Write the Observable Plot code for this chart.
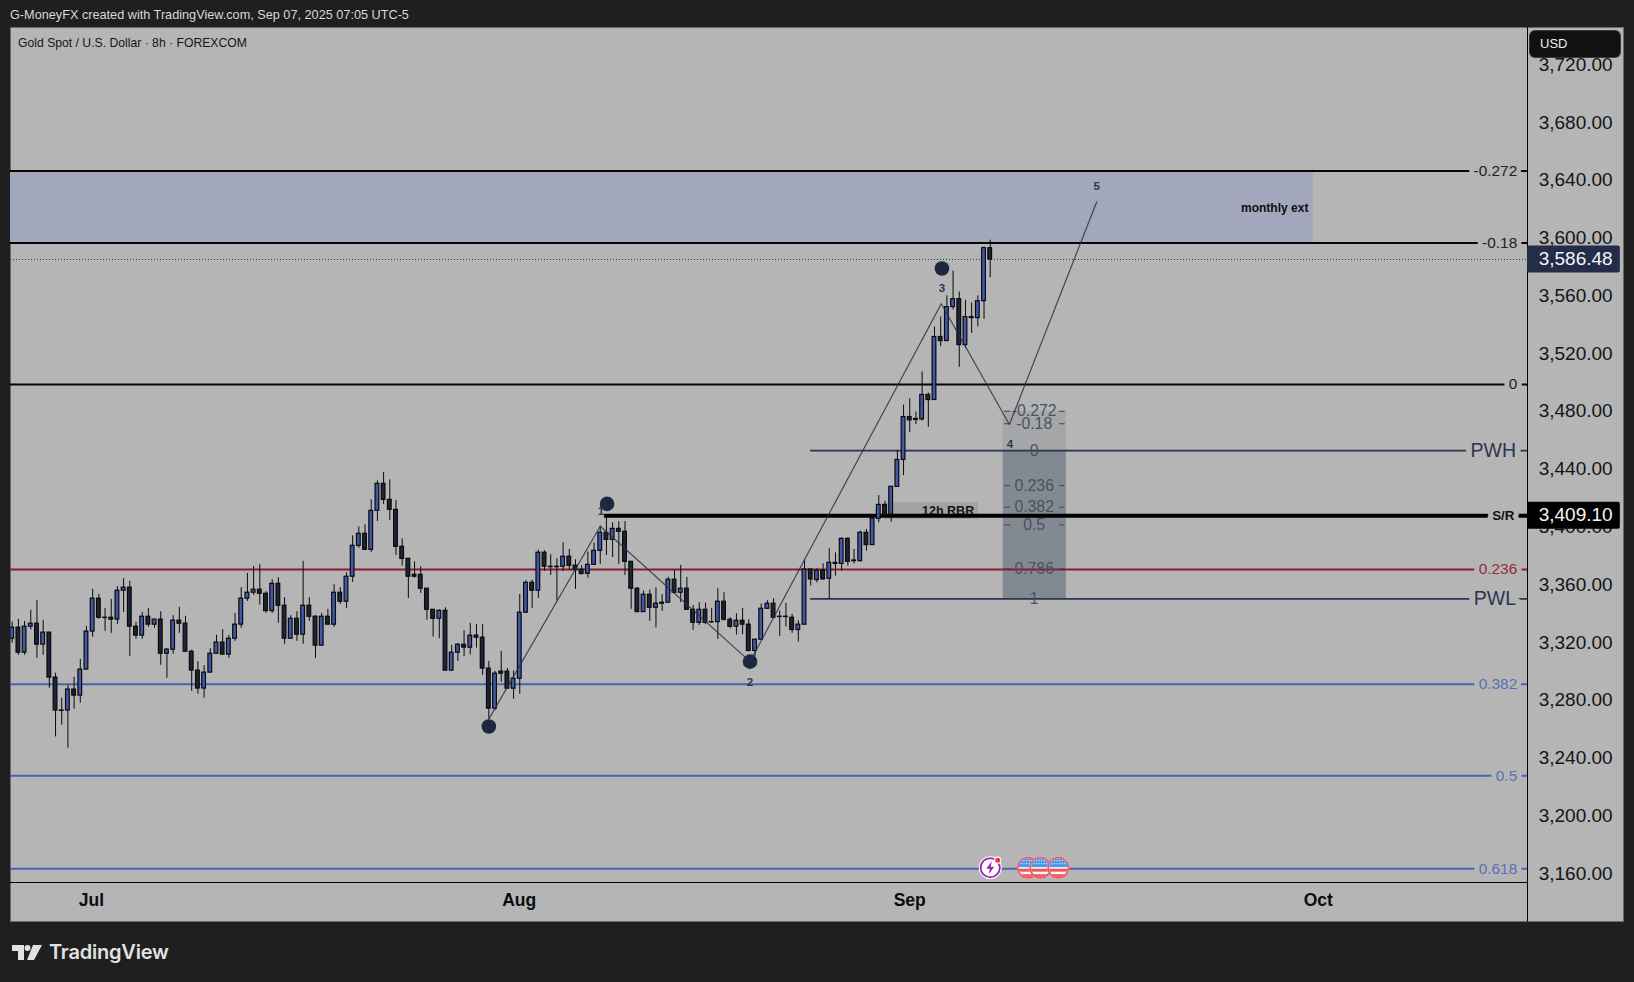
<!DOCTYPE html>
<html><head><meta charset="utf-8">
<script src="https://cdn.jsdelivr.net/npm/d3@7"></script>
<script src="https://cdn.jsdelivr.net/npm/@observablehq/plot@0.6"></script>
<style>
html,body{margin:0;padding:0;background:#1f1f1f;width:1634px;height:982px;overflow:hidden;font-family:"Liberation Sans",Arial,sans-serif}
#head{position:absolute;left:10px;top:7px;color:#d9d9d9;font-size:12.7px;line-height:17px;white-space:nowrap}
#pane{position:absolute;left:10px;top:27px;width:1614px;height:895px;background:#b5b5b5;box-shadow:inset 0 0 0 1px #6a6a6a}
#pane svg{display:block}
#sym{position:absolute;left:8px;top:8px;color:#161616;font-size:12.2px;line-height:16px;white-space:nowrap}
#usd{position:absolute;left:1520px;top:4px;width:80px;height:26px;padding-left:10px;background:#111;border-radius:5px;color:#eee;font-size:13px;line-height:26px;box-shadow:0 0 0 1px #3a3a3a}
#logo{position:absolute;left:12px;top:942px;display:flex;align-items:center;color:#e2e2e2;font-family:Inter,"Noto Sans",sans-serif;font-weight:600;font-size:20px;letter-spacing:-.2px;line-height:20px}
#logo svg{margin-right:7px}
</style></head><body>
<div id="head">G-MoneyFX created with TradingView.com, Sep 07, 2025 07:05 UTC-5</div>
<div id="pane"><div id="sym">Gold Spot / U.S. Dollar · 8h · FOREXCOM</div><div id="usd">USD</div></div>
<div id="logo"><svg width="30" height="15" viewBox="0 0 30 15"><path fill="#e2e2e2" d="M12 0H0v6h6v9h6zM22 15h-7L21 0h9zM15.5 6a3 3 0 1 0 0-6 3 3 0 0 0 0 6z"/></svg>TradingView</div>
<script>
const opens=[3324,3331.6,3314.3,3332.3,3334.4,3319.9,3328.2,3297.1,3274.3,3274.3,3288.8,3284.6,3302.6,3328.9,3351.7,3338.5,3338.5,3337.2,3357.2,3359.3,3332.3,3326.1,3339.2,3333.7,3337.2,3313.6,3316.4,3336.5,3334.4,3315,3301.9,3289.5,3300.5,3313.6,3321.3,3313,3324,3333.7,3351.7,3355.8,3357.9,3355.1,3343.1,3362,3346.8,3324,3337.8,3326.8,3346.8,3339.2,3319.2,3339.2,3333.7,3355.8,3349.6,3366.9,3388.3,3396.6,3385.5,3412.5,3431.2,3420.1,3413.2,
3387.6,3379.3,3368.2,3368.2,3358.6,3344,3337.8,3343.3,3301.9,3314.3,3319.8,3317.8,3326.1,3324.7,3303.3,3275.6,3301.2,3301.2,3289.4,3296.3,3342,3362.7,3357.2,3383.5,3373.8,3373.8,3373.8,3380.7,3374.5,3371.7,3368.9,3375.1,3384.8,3397.3,3392.4,3400,3398,3377.2,3358.6,3342.4,3354.4,3345.4,3348.9,3348.9,3364.8,3355.8,3358.6,3344,3335,3344,3335.5,3335.5,3349.6,3337.1,3332.3,3336.4,3333.7,3315.5,3323.3,3344.7,3348.2,3339.2,3339.2,3338.5,3330,
3333.7,3371.9,3364.6,3371.2,3365.5,3376.5,3375.8,3393.1,3378.1,3377.7,3397.3,3388.8,3407,3416.6,3409.9,3429.1,3447.7,3477.4,3476.1,3475.8,3492.7,3489.2,3532.8,3530,3553.5,3559,3527.2,3546.6,3545.9,3557.6,3594.3];
const closes=[3331.6,3314.3,3332.3,3334.4,3319.9,3328.2,3297.1,3274.3,3274,3288.8,3284.6,3302.6,3328.9,3351.7,3338.5,3338.3,3337.2,3357.2,3359.3,3332.3,3326.1,3339.2,3333.7,3337.2,3313.6,3316.4,3336.5,3334.4,3315,3301.9,3289.5,3300.5,3313.6,3321.3,3313,3324,3333.7,3351.7,3355.8,3357.9,3355.1,3343.1,3362,3346.8,3324,3337.8,3326.8,3346.8,3339.2,3319.2,3339.2,3333.7,3355.8,3349.6,3366.9,3388.3,3396.6,3385.5,3412.5,3431.2,3420.1,3413.2,3387.6,
3379.3,3366.9,3366.9,3358.6,3344,3337.8,3343.3,3301.9,3314.3,3319.8,3317.8,3326.1,3324.7,3303.3,3275.6,3299.8,3299.8,3289.4,3296.3,3342,3362.7,3357.2,3383.5,3373.8,3373.5,3373.5,3380.7,3374.5,3371.7,3368.7,3375.1,3384.8,3397.3,3392.4,3400,3398,3377.2,3358.6,3342.4,3354.4,3345.4,3348.2,3348.2,3364.8,3355.8,3358.6,3344,3335,3344,3335,3335.3,3349.6,3337.1,3332.3,3336.4,3333.7,3315.5,3323.3,3344.7,3348.2,3338.5,3339,3339,3330,3333.7,
3371.9,3365,3371.2,3365,3376.5,3375.8,3393.1,3377.2,3377.7,3397.3,3388.8,3407,3416.6,3409.9,3429.1,3447.7,3477.4,3475.1,3475.4,3492.7,3489.2,3532.8,3530,3553.5,3559,3527.2,3546.6,3545.9,3557.6,3594.3,3586.48];
const highs=[3335.5,3337.4,3336,3343.6,3350.5,3336.7,3328.2,3300.1,3282.8,3291.8,3297.3,3309.7,3332.5,3358.1,3354.7,3345,3351.2,3360,3365.5,3363.7,3335.3,3342.2,3345,3337.2,3342.7,3317.1,3339.9,3345.7,3339.5,3316,3308.1,3305.4,3317.1,3326.3,3330.2,3326.3,3341.5,3359.3,3369.2,3374,3375.2,3356.5,3364.8,3366.2,3352.4,3339.9,3342.7,3377.5,3352.4,3339.9,3341.5,3344.3,3361.3,3359.3,3369.6,3395.2,3401.4,3402.8,3420.1,3433.2,3439,3433.9,3419.6,
3393.1,3379.3,3377.2,3373.8,3358.6,3344,3344,3345.4,3319.4,3320.5,3329.5,3334.6,3333.9,3333.9,3308.3,3301.4,3315.2,3303.3,3301.6,3354.6,3364.1,3364.5,3385.3,3384.8,3382.1,3379.3,3390.3,3385.7,3378.6,3374.5,3384.1,3390.3,3401.9,3408.8,3404.2,3404.9,3405.1,3377.2,3359.2,3356.9,3357.6,3359.2,3354.6,3366.4,3371,3374.7,3366.4,3347,3348.9,3348.6,3345,3358.6,3355.8,3338.5,3341.3,3345,3337.1,3323.5,3348,3350.3,3351.6,3343.1,3348.4,3340.8,3336.4,
3378.8,3371.9,3372.4,3375.8,3386.2,3383.4,3393.8,3393.8,3385.8,3398.4,3399.6,3407,3423.1,3419.2,3429.1,3454.2,3485.7,3490.1,3480.9,3508.6,3494,3539.7,3546.6,3561.3,3578.4,3563.9,3558.3,3556.3,3561.3,3595,3599.8];
const lows=[3320.8,3312.5,3312.5,3330,3310.4,3312.5,3289.7,3256,3264.1,3248.2,3275.2,3279.3,3302.6,3324.9,3337.4,3329.1,3327.7,3333.9,3342.2,3311.8,3323.6,3323.6,3331.9,3331.2,3305.6,3296.6,3313.2,3327.7,3315,3287.6,3285.6,3282.8,3300.5,3313.6,3313,3310.4,3322.2,3331.2,3349.8,3354,3347.1,3341.5,3341.5,3334.6,3320.1,3324,3322.2,3320.1,3336,3310.4,3319.2,3333.7,3331.9,3347.8,3345,3363,3386.5,3385.5,3383.7,3405.1,3416.9,3405.8,3381.6,
3374.2,3351.9,3365.9,3355.3,3336.7,3325.1,3324,3301.9,3301.9,3308.3,3311.6,3312.7,3317.5,3298.6,3268.2,3274.2,3293.8,3289.4,3282.1,3285.5,3341.5,3345,3351.9,3370.5,3367.8,3350,3370.5,3371.5,3358.1,3368.7,3365.9,3375.1,3375.4,3381.6,3380.2,3375.4,3367.8,3344.3,3342,3342.4,3336,3331.4,3342.9,3348.9,3354.6,3348.9,3344,3329.7,3333.2,3333.7,3334.6,3323.5,3336.2,3330.9,3326.5,3326.8,3315.5,3311.6,3323.3,3344.3,3338.1,3325.6,3332.1,3327.7,3321.7,
3333.7,3360.4,3362.7,3364.6,3351.2,3367.3,3370.8,3374.2,3375.8,3377,3384.6,3388.8,3404.2,3407,3404.6,3429.1,3436.9,3466.6,3472.2,3474.5,3470.3,3489.2,3526.1,3530,3551.6,3511.8,3524.7,3535.3,3539.9,3545,3573.8];
const priceTicks=[3160,3200,3240,3280,3320,3360,3400,3440,3480,3520,3560,3600,3640,3680,3720];
const monthLabels=["Jul","Aug","Sep","Oct"];
const monthBars=[12.8,81.9,145,211];
const fibLevels=[3647.7,3597.95,3500,3371.9,3292.4,3229.2,3164.8];
const fibNames=["-0.272","-0.18","0","0.236","0.382","0.5","0.618"];
const boxLevels=[3481.4,3472.8,3454.2,3430,3415,3402.8,3372.6,3351.6];
const boxNames=["-0.272","-0.18","0","0.236","0.382","0.5","0.786","1"];
const waveBars=[77,95,119.2,150.1,161.1,175.2];
const wavePrices=[3268.3,3401.8,3308.1,3555.8,3472.3,3626.3];
const pivotBars=[77,96.1,119.2,150.2];
const pivotPrices=[3263.2,3417.3,3308.1,3580.2];
const waveNames=["1","2","3","4","5"];
const waveNameBars=[95.1,119.2,150.2,161.2,175.2];
const waveNamePrices=[3412.2,3293.6,3566.6,3458.8,3637];
const lastPrice=3586.48, srPrice=3409.10, pwh=3454.2, pwl=3351.6;

const bg="#b5b5b5", up="#4059ad", down="#1c2438", ink="#0a0a0a", navy="#2b3550", blue="#4a63b3", red="#8a1c2e";
const xMin=-0.275, xMax=244.8, yMin=3155.25, yMax=3747.02;
const bars=opens.map((o,i)=>({i,o,c:closes[i],h:highs[i],l:lows[i]}));
const levels=fibLevels.map((p,k)=>({p,name:fibNames[k],
  line:p>3400?"#050505":(p>3350?red:blue), label:p>3400?"#222":(p>3350?"#9a2a3a":"#5a70b8")}));
const boxMarks=boxLevels.map((p,k)=>({p,name:boxNames[k]}));
const dashed=boxMarks.filter(d=>d.name!=="0"&&d.name!=="1");
const wave=waveBars.map((b,k)=>({b,p:wavePrices[k]}));
const pivots=pivotBars.map((b,k)=>({b,p:pivotPrices[k]}));
const waveText=waveNames.map((t,k)=>({t,b:waveNameBars[k],p:waveNamePrices[k]}));
const svgIcon=s=>"data:image/svg+xml,"+encodeURIComponent(`<svg xmlns="http://www.w3.org/2000/svg" viewBox="0 0 24 24">${s}</svg>`);
const flag=svgIcon(`<clipPath id="c"><circle cx="12" cy="12" r="9.4"/></clipPath><circle cx="12" cy="12" r="11" fill="#fff"/><circle cx="12" cy="12" r="10.2" fill="#fff" stroke="#f4525c" stroke-width="1.6"/><g clip-path="url(#c)"><rect x="2" y="13" width="20" height="3" fill="#f4525c"/><rect x="2" y="18.5" width="20" height="4" fill="#f4525c"/><rect x="2" y="2" width="20" height="9.5" fill="#4d9ae8"/><path d="M5 5h14M5 8h14" stroke="#fff" stroke-dasharray="1 1.6" stroke-width="1"/></g>`);
const bolt=svgIcon(`<circle cx="12" cy="12" r="11.5" fill="#fff"/><circle cx="12" cy="12" r="9.6" fill="#fff" stroke="#9c27b0" stroke-width="1.8"/><path d="M13.5 5.5 8 13h3.5l-1 5.5L16 11h-3.5z" fill="#9c27b0"/><circle cx="19.5" cy="4.5" r="3.6" fill="#fff"/><circle cx="19.5" cy="4.5" r="2.5" fill="#f0323c"/>`);
const events=[{b:158,src:bolt},{b:164.1,src:flag},{b:166.1,src:flag},{b:169,src:flag}];
const eventPrice=3165.5;

const badge=(p,fill)=>[
  Plot.rect([p],{x1:xMax,x2:259.8,y1:d=>d-9.3,y2:d=>d+9.3,fill,rx:2}),
  Plot.text([p],{y:d=>d,text:d=>d3.format(",.2f")(d),frameAnchor:"right",textAnchor:"start",dx:11.2,dy:-0.5,fill:"#f5f5f5",fontSize:19})
];
const chart=Plot.plot({
  width:1614,height:895,marginLeft:0,marginRight:97,marginTop:0,marginBottom:40,
  style:{background:"transparent",fontFamily:"'Liberation Sans',Arial,sans-serif",overflow:"visible"},
  x:{type:"linear",domain:[xMin,xMax],range:[0,1517]},
  y:{type:"linear",domain:[yMin,yMax],range:[855,0]},
  marks:[
    Plot.rect([0],{x1:xMin,x2:210.2,y1:fibLevels[1],y2:fibLevels[0],fill:"#a3a7bb"}),
    Plot.rect([0],{x1:160.1,x2:170.3,y1:pwh,y2:boxLevels[0],fill:"#a5a6a8"}),
    Plot.rect([0],{x1:160.1,x2:170.3,y1:pwl,y2:pwh,fill:"#838990"}),
    Plot.rect([0],{x1:141.3,x2:156.1,y1:3406.5,y2:3418,fill:"#a3a3a3"}),
    Plot.ruleY(levels,{y:"p",x1:xMin,x2:xMax,stroke:"line",strokeWidth:2}),
    Plot.ruleY([lastPrice],{x1:xMin,x2:xMax,stroke:navy,strokeWidth:1,strokeDasharray:"1 2"}),
    Plot.ruleY([pwh,pwl],{x1:129,x2:xMax,stroke:navy,strokeWidth:1.8}),
    Plot.text(["12h RBR"],{x:151.2,y:3412.3,text:d=>d,fill:"#151515",fontWeight:"bold",fontSize:12.5}),
    Plot.ruleY([srPrice],{x1:95.7,x2:xMax,stroke:"#000",strokeWidth:3.8}),
    Plot.ruleY(dashed,{y:"p",x1:160.3,x2:161.3,stroke:"#4a5262",strokeWidth:1.2}),
    Plot.ruleY(dashed,{y:"p",x1:169.2,x2:170.1,stroke:"#4a5262",strokeWidth:1.2}),
    Plot.text(boxMarks,{x:165.1,y:"p",text:"name",fill:"#4a5262",fontSize:15.8}),
    Plot.ruleX(bars,{x:"i",y1:"l",y2:"h",stroke:ink,strokeWidth:1,clip:true}),
    Plot.rect(bars,{x1:d=>d.i-0.3,x2:d=>d.i+0.3,y1:"o",y2:"c",fill:d=>d.c>d.o?up:down,stroke:ink,strokeWidth:1.2,clip:true}),
    Plot.line(wave,{x:"b",y:"p",stroke:"#2b3148",strokeOpacity:.85,strokeWidth:1.2,curve:"linear"}),
    Plot.dot(pivots,{x:"b",y:"p",r:7.3,fill:"#1e2740"}),
    Plot.text(waveText,{x:"b",y:"p",text:"t",fill:"#2e364c",fontWeight:"bold",fontSize:11.5}),
    Plot.text(["monthly ext"],{x:209.4,y:3622.1,text:d=>d,textAnchor:"end",fill:"#101010",fontWeight:"bold",fontSize:12}),
    Plot.image(events,{x:"b",y:()=>eventPrice,src:"src",width:24,height:24}),
    Plot.text(levels,{y:"p",text:"name",frameAnchor:"right",dx:-10.3,fill:"label",stroke:bg,strokeWidth:10,paintOrder:"stroke",fontSize:15.4}),
    Plot.text(["PWH"],{y:pwh,text:d=>d,frameAnchor:"right",dx:-11.5,fill:navy,stroke:bg,strokeWidth:12,paintOrder:"stroke",fontSize:19.5}),
    Plot.text(["PWL"],{y:pwl,text:d=>d,frameAnchor:"right",dx:-11.5,fill:navy,stroke:bg,strokeWidth:12,paintOrder:"stroke",fontSize:19.5}),
    Plot.text(["S/R"],{y:srPrice,text:d=>d,frameAnchor:"right",dx:-13,fill:"#111",fontWeight:"bold",stroke:bg,strokeWidth:10,paintOrder:"stroke",fontSize:13.4}),
    Plot.ruleY([yMin],{x1:xMin,x2:xMax,stroke:"#000",strokeWidth:1}),
    Plot.ruleX([xMax],{y1:3127.8,y2:yMax,stroke:"#000",strokeWidth:1}),
    Plot.axisY(priceTicks,{anchor:"right",label:null,tickSize:0,tickPadding:11.2,dy:-1.9,fontSize:19,fill:"#141414",tickFormat:d3.format(",.2f")}),
    Plot.axisX(monthBars,{anchor:"bottom",label:null,tickSize:0,tickPadding:11,fontSize:17.5,fontWeight:"bold",fill:"#0c0c0c",tickFormat:(d,k)=>monthLabels[k]}),
    ...badge(lastPrice,"#232c49"),
    ...badge(srPrice,"#000")
  ]
});
document.getElementById("pane").appendChild(chart);
</script>
</body></html>
